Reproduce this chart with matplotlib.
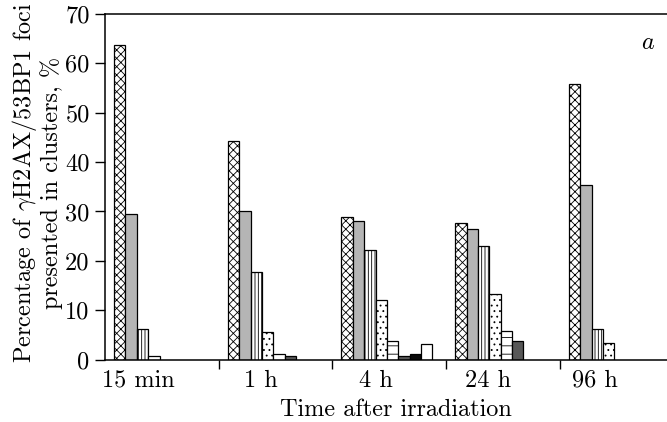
import matplotlib
matplotlib.use("Agg")
import matplotlib.pyplot as plt
import numpy as np

# ---- data ----
categories = ["15 min", "1 h", "4 h", "24 h", "96 h"]
cross_hatched = [63.7, 44.3, 28.9, 27.65, 55.75]
light_gray = [29.4, 30.1, 28.0, 26.4, 35.3]
vertical_lines = [6.2, 17.7, 22.2, 23.1, 6.2]
dotted = [0.65, 5.6, 12.0, 13.4, 3.3]
dashed = [0.0, 1.25, 3.8, 5.9, 0.0]
dark_gray = [0.0, 0.85, 0.85, 3.7, 0.0]
black = [0.0, 0.0, 1.25, 0.0, 0.0]
white = [0.0, 0.0, 3.15, 0.0, 0.0]
y_ticks = [0, 10, 20, 30, 40, 50, 60, 70]

series = [
    (cross_hatched, "white", "xxxx"),
    (light_gray, "#b5b5b5", None),
    (vertical_lines, "white", "|||||"),
    (dotted, "white", "..."),
    (dashed, "white", "--"),
    (dark_gray, "#585858", None),
    (black, "#0a0a0a", None),
    (white, "white", None),
]

plt.rcParams["font.family"] = ["cmr10"]
plt.rcParams["mathtext.fontset"] = "cm"
plt.rcParams["axes.formatter.use_mathtext"] = True
plt.rcParams["hatch.linewidth"] = 0.6

FS = 17.5
fig = plt.figure(figsize=(6.67, 4.22), dpi=100)
ax = fig.add_axes([105 / 667, 62.3 / 422, 568.5 / 667, 345.8 / 422])

group_step = 10.0
offset = 0.8
for j, (vals, color, hatch) in enumerate(series):
    vals = np.asarray(vals, dtype=float)
    idx = np.nonzero(vals > 0)[0]
    xs = idx * group_step + offset + j
    ax.bar(xs, vals[idx], width=1.0, align="edge", color=color,
           edgecolor="black", linewidth=0.9, hatch=hatch)

ax.set_xlim(0, 50)
ax.set_ylim(0, 70)
ax.set_yticks(y_ticks)
ax.set_yticklabels([str(v) for v in y_ticks], fontsize=FS)
ax.tick_params(axis="y", direction="out", length=7, width=1, pad=4)

label_pos = [2.95, 13.7, 23.8, 33.65, 43.05]
ax.set_xticks(label_pos)
ax.set_xticklabels(categories, fontsize=FS)
ax.tick_params(axis="x", which="major", length=0, pad=7)
ax.set_xticks([10, 20, 30, 40], minor=True)
ax.tick_params(axis="x", which="minor", direction="out", length=6.5, width=1)

for s in ["left", "bottom", "top"]:
    ax.spines[s].set_linewidth(1.1)
ax.spines["right"].set_visible(False)

ax.set_xlabel("Time after irradiation", fontsize=FS, va="top")
ax.xaxis.set_label_coords(0.512, -0.112)

ax.text(-0.1205, 0.512,
        "Percentage of $\\gamma$H2AX/53BP1 foci\npresented in clusters, %",
        transform=ax.transAxes, rotation=90, ha="center", va="center",
        multialignment="center", fontsize=FS, linespacing=1.05)

ax.text(0.955, 0.916, "$a$", transform=ax.transAxes, ha="center",
        va="center", fontsize=FS)

fig.savefig("out.png", dpi=100)
